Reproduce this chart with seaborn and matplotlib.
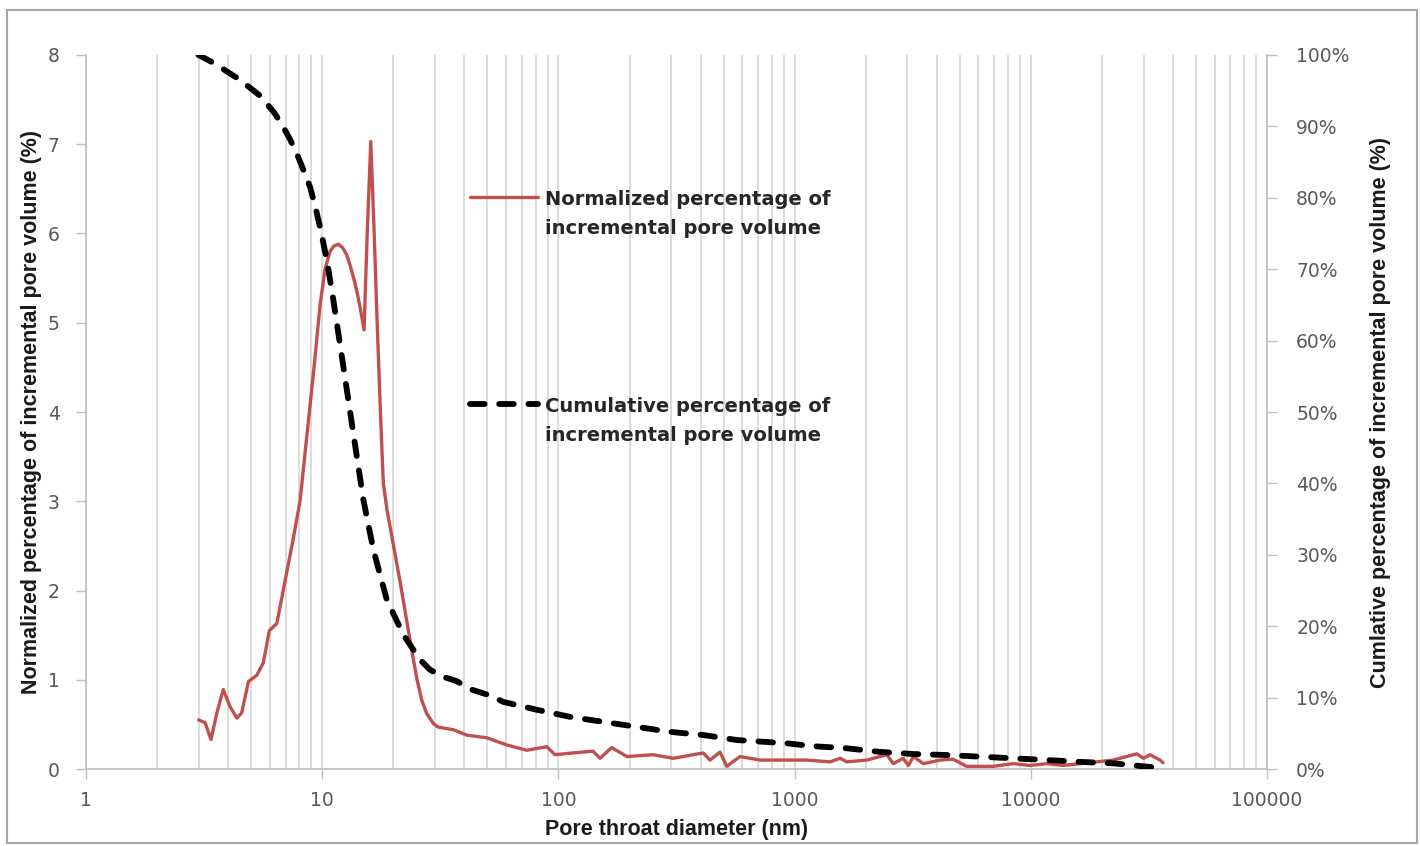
import matplotlib
matplotlib.use("Agg")
import matplotlib.pyplot as plt
import numpy as np
import pandas as pd
import seaborn as sns
from matplotlib.patches import Rectangle
from matplotlib.ticker import LogLocator, MultipleLocator, FuncFormatter, NullFormatter

# 孔喉直径 (nm) 与归一化增量孔体积 (%)
norm_diameter = [3.0, 3.19, 3.38, 3.58, 3.81, 4.07, 4.35, 4.56, 4.87, 5.28, 5.63, 5.97, 6.42, 7.07,
                 7.5, 8.05, 8.62, 9.23, 9.79, 10.28, 10.79, 11.2, 11.7, 12.2, 12.70, 13.2, 13.77,
                 14.2, 14.60, 15.03, 15.52, 16.05, 16.57, 17.12, 17.69, 18.14, 18.81, 21.35,
                 23.93, 25.2, 26.38, 27.70, 29.54, 30.93, 35.9, 40.9, 49.7, 60.4, 73.4, 89.2, 96.7,
                 115, 140, 150, 168, 195, 252, 306, 410, 438, 483, 516, 587, 714, 926, 1125, 1412,
                 1557, 1662, 2020, 2299, 2455, 2618, 2877, 3030, 3183, 3507, 4127, 4684, 5353,
                 6918, 8409, 9922, 11676, 13688, 16157, 19010, 22284, 25468, 28081, 29949, 31962,
                 35238, 36285]
norm_value = [0.55, 0.52, 0.33, 0.63, 0.89, 0.70, 0.57, 0.63, 0.98, 1.05, 1.19, 1.55, 1.63, 2.2,
              2.55, 3.0, 3.75, 4.5, 5.2, 5.6, 5.8, 5.86, 5.88, 5.84, 5.76, 5.62, 5.44,
              5.28, 5.11, 4.92, 6.04, 7.03, 6.04, 4.92, 3.9, 3.2, 2.9, 2.1,
              1.33, 1.0, 0.77, 0.62, 0.51, 0.47, 0.44, 0.38, 0.35, 0.27, 0.21, 0.25, 0.16,
              0.18, 0.20, 0.12, 0.24, 0.14, 0.16, 0.12, 0.18, 0.10, 0.19, 0.03, 0.14, 0.10, 0.10,
              0.10, 0.08, 0.12, 0.08, 0.10, 0.14, 0.16, 0.06, 0.12, 0.04, 0.14, 0.06, 0.10, 0.11,
              0.03, 0.03, 0.06, 0.04, 0.06, 0.04, 0.06, 0.08, 0.10, 0.14, 0.17, 0.12, 0.16,
              0.10, 0.07]

# 累计孔体积 (%)
cum_diameter = [2.99, 3.24, 3.6, 3.94, 4.4, 4.95, 5.4, 5.82, 6.3, 6.84, 7.3, 7.80, 8.3, 8.88,
                9.3, 9.79, 10.45, 11.14, 12.29, 13.54, 14.93, 16.46, 18.76, 22.05, 25.95, 28.6,
                32.6, 37.1, 42.2, 51.3, 58.4, 80.9, 112, 155, 215, 297, 411, 569, 926, 1197, 1662,
                2299, 3172, 4406, 6095, 8409, 11676, 16157, 22284, 30948, 36285]
cum_value = [100, 99.4, 98.6, 97.7, 96.7, 95.4, 94.4, 93.2, 91.8, 89.9, 88.2, 86.2, 84.0, 81.5,
             79.0, 75.9, 71.3, 65.7, 56.3, 47.0, 37.7, 30.7, 23.7, 18.8, 15.3, 13.9,
             12.9, 12.3, 11.2, 10.3, 9.4, 8.3, 7.3, 6.6, 5.9, 5.2, 4.76, 4.06, 3.6, 3.2, 2.9,
             2.4, 2.1, 1.96, 1.73, 1.5, 1.26, 1.0, 0.8, 0.33, 0.1]

legend_labels = ["Normalized percentage of\nincremental pore volume",
                 "Cumulative percentage of\nincremental pore volume"]

sns.set_theme(style="white")
plt.rcParams["font.family"] = ["DejaVu Sans"]

tick_color = "#595959"
axis_color = "#bfbfbf"

fig = plt.figure(figsize=(14.2, 8.46), dpi=100)
ax = fig.add_axes([0.0606, 0.091, 0.8317, 0.844])
ax2 = ax.twinx()

norm_df = pd.DataFrame({"diameter": norm_diameter, "value": norm_value})
cum_df = pd.DataFrame({"diameter": cum_diameter, "value": cum_value})

sns.lineplot(data=norm_df, x="diameter", y="value", ax=ax, color="#c0504d", lw=2.4, legend=False)
sns.lineplot(data=cum_df, x="diameter", y="value", ax=ax2, color="black", lw=4.2, legend=False)
norm_line = ax.lines[0]
norm_line.set_solid_joinstyle("round")
cum_line = ax2.lines[0]
cum_line.set_dashes([2.5, 2.5])
cum_line.set_dash_capstyle("round")

ax.set_xscale("log")
ax.set_xlim(1, 100000)
ax.set_ylim(0, 8)
ax2.set_ylim(0, 100)

# 对数坐标网格
ax.xaxis.set_major_locator(LogLocator(base=10, numticks=10))
ax.xaxis.set_minor_locator(LogLocator(base=10, subs=np.arange(2, 10), numticks=10))
ax.xaxis.set_major_formatter(FuncFormatter(lambda v, p: f"{int(round(v))}"))
ax.xaxis.set_minor_formatter(NullFormatter())
ax.grid(which="both", axis="x", color="#d9d9d9", lw=1.3)
ax.grid(which="both", axis="y", visible=False)
ax.set_axisbelow(True)

ax.yaxis.set_major_locator(MultipleLocator(1))
ax2.yaxis.set_major_locator(MultipleLocator(10))
ax2.yaxis.set_major_formatter(FuncFormatter(lambda v, p: f"{v:.0f}%"))

ax.tick_params(axis="x", which="major", bottom=True, length=7, width=1, color=axis_color,
               labelsize=13.5, labelcolor=tick_color, pad=9)
ax.tick_params(axis="x", which="minor", bottom=False, length=0)
ax.tick_params(axis="y", left=True, length=7, width=1, color=axis_color,
               labelsize=13.5, labelcolor=tick_color, pad=12)
ax2.tick_params(axis="y", right=True, length=7, width=1, color=axis_color,
                labelsize=13.5, labelcolor=tick_color, pad=14)

for s in ["top", "right"]:
    ax.spines[s].set_visible(False)
for s in ["top", "left", "bottom"]:
    ax2.spines[s].set_visible(False)
ax.spines["left"].set_color(axis_color)
ax.spines["bottom"].set_color(axis_color)
ax2.spines["right"].set_color(axis_color)
for sp in [ax.spines["left"], ax.spines["bottom"], ax2.spines["right"]]:
    sp.set_linewidth(1.2)

label_font = dict(family=["Liberation Sans", "DejaVu Sans"], fontsize=15.5, fontweight="bold", color="#1a1a1a")
ax.set_xlabel("Pore throat diameter (nm)", **label_font)
ax.set_ylabel("Normalized percentage of incremental pore volume (%)", **label_font)
ax2.set_ylabel("Cumlative percentage of incremental pore volume (%)", rotation=90, **label_font)
ax.xaxis.label.set_va("center")
ax.yaxis.label.set_va("center")
ax2.yaxis.label.set_va("center")
ax.xaxis.set_label_coords(0.4996, -0.085)
ax.yaxis.set_label_coords(-0.046, 0.5)
ax2.yaxis.set_label_coords(1.096, 0.5)

# 图例
leg = ax2.legend([norm_line, cum_line], legend_labels, loc="upper left",
                 bbox_to_anchor=(0.310, 0.835), frameon=False, handlelength=3.5,
                 handletextpad=0.35, labelspacing=8.2, prop=dict(size=14, weight="bold"))
for t in leg.get_texts():
    t.set_color("#262626")
    t.set_linespacing(1.65)
for col in leg._legend_handle_box.get_children():
    for item in col.get_children():
        item.align = "top"

fig.patches.append(Rectangle((0.005, 0.004), 0.993, 0.984, transform=fig.transFigure,
                             fill=False, edgecolor="#a6a6a6", lw=1.5))

fig.savefig("out.png", dpi=100)
